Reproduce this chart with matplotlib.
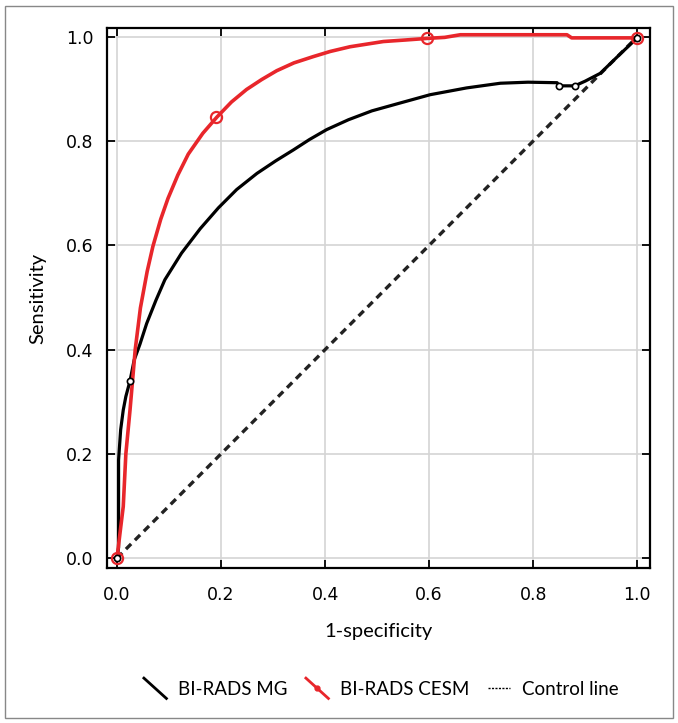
import matplotlib
matplotlib.use("Agg")
import numpy as np
from matplotlib import pyplot as plt
from matplotlib.legend_handler import HandlerLine2D
from matplotlib.patches import Rectangle

# BI-RADS CESM curve (red)
cesm_x = [0.0, 0.006, 0.012, 0.017, 0.025, 0.035, 0.045, 0.058, 0.069, 0.084, 0.098, 0.117,
          0.137, 0.165, 0.192, 0.22, 0.249, 0.278, 0.307, 0.34, 0.377, 0.41, 0.448, 0.48,
          0.512, 0.555, 0.596, 0.63, 0.66, 0.865, 0.874, 1.0]
cesm_y = [0.0, 0.05, 0.099, 0.2, 0.284, 0.4, 0.48, 0.55, 0.598, 0.65, 0.69, 0.735,
          0.775, 0.815, 0.846, 0.875, 0.899, 0.918, 0.935, 0.95, 0.962, 0.972, 0.981, 0.986,
          0.991, 0.994, 0.997, 0.999, 1.004, 1.004, 0.998, 0.998]

# BI-RADS MG curve (black)
mg_x = [0.0, 0.003, 0.003, 0.007, 0.012, 0.017, 0.025, 0.033, 0.044, 0.057, 0.075, 0.092,
        0.124, 0.16, 0.195, 0.23, 0.269, 0.305, 0.339, 0.37, 0.403, 0.445, 0.49, 0.544,
        0.602, 0.672, 0.737, 0.79, 0.846, 0.85, 0.88, 0.9, 0.929, 0.96, 1.0]
mg_y = [0.0, 0.02, 0.188, 0.246, 0.284, 0.31, 0.34, 0.38, 0.41, 0.45, 0.495, 0.534,
        0.585, 0.632, 0.672, 0.707, 0.738, 0.762, 0.783, 0.803, 0.822, 0.841, 0.858, 0.873,
        0.889, 0.902, 0.911, 0.913, 0.912, 0.906, 0.906, 0.915, 0.93, 0.96, 0.998]

cesm_mark_x = [0.0, 0.19, 0.595, 1.0]
cesm_mark_y = [0.0, 0.846, 0.997, 0.998]
mg_mark_x = [0.0, 0.025, 0.85, 0.88, 1.0]
mg_mark_y = [0.0, 0.34, 0.906, 0.906, 0.998]

ref_x = [0.0, 1.0]
ref_y = [0.0, 1.0]

ticks = [0.0, 0.2, 0.4, 0.6, 0.8, 1.0]
tick_labels = ["0.0", "0.2", "0.4", "0.6", "0.8", "1.0"]


class DiagonalHandler(HandlerLine2D):
    # legend handle drawn as a short line going down to the right
    def create_artists(self, legend, orig_handle, xdescent, ydescent, width, height, fontsize, trans):
        artists = super().create_artists(legend, orig_handle, xdescent, ydescent, width, height, fontsize, trans)
        top = height * 1.25 - ydescent
        bottom = -height * 0.3 - ydescent
        for a in artists:
            xd = a.get_xdata()
            n = len(xd)
            if n >= 2:
                a.set_xdata(np.linspace(xd[0], xd[-1], n))
                a.set_ydata(np.linspace(top, bottom, n))
            elif n == 1:
                a.set_ydata([(top + bottom) / 2])
        return artists


fig = plt.figure(figsize=(6.78, 7.23), dpi=100)
ax = fig.add_axes([0.158, 0.2144, 0.801, 0.7469])

ax.grid(True, color="#d4d4d4", linewidth=1.2, zorder=0)
ax.plot(ref_x, ref_y, color="#222222", linestyle=(0, (2.2, 1.6)), linewidth=2.4, zorder=2)
ax.plot(mg_x, mg_y, color="black", linewidth=2.3, zorder=3)
ax.plot(mg_mark_x, mg_mark_y, linestyle="none", marker="o", markersize=4.5,
        markerfacecolor="white", markeredgecolor="black", markeredgewidth=1.2, zorder=4)
ax.plot(cesm_x, cesm_y, color="#e8262b", linewidth=2.6, zorder=3)
ax.plot(cesm_mark_x, cesm_mark_y, linestyle="none", marker="o", markersize=8,
        markerfacecolor="none", markeredgecolor="#e8262b", markeredgewidth=1.6, zorder=4)

ax.set_xlim(-0.019, 1.025)
ax.set_ylim(-0.019, 1.017)
ax.set_xticks(ticks)
ax.set_xticklabels(tick_labels, fontsize=12.5, family="DejaVu Sans")
ax.set_yticks(ticks)
ax.set_yticklabels(tick_labels, fontsize=12.5, family="DejaVu Sans")
ax.tick_params(direction="in", length=6, width=1.3, top=True, right=True)
ax.tick_params(axis="x", pad=13)
ax.tick_params(axis="y", pad=10)
for s in ax.spines.values():
    s.set_linewidth(1.6)
    s.set_color("black")

ax.set_xlabel("1-specificity", fontsize=14.5, family="Lato", labelpad=14)
ax.set_ylabel("Sensitivity", fontsize=14.5, family="Lato", labelpad=14)

h1, = ax.plot([], [], color="black", linewidth=2)
h2, = ax.plot([], [], color="#e8262b", linewidth=2, marker="o", markersize=3.5)
h3, = ax.plot([], [], color="black", linewidth=1, linestyle=(0, (1.5, 1)))
fig.legend([h1, h2, h3], ["BI-RADS MG", "BI-RADS CESM", "Control line"],
           loc="center", bbox_to_anchor=(0.562, 0.047), ncol=3, frameon=False,
           prop={"family": "Lato", "size": 13.5}, handlelength=1.2, handletextpad=0.6,
           columnspacing=1.0,
           handler_map={h1: DiagonalHandler(), h2: DiagonalHandler(), h3: HandlerLine2D()})

fig.patches.append(Rectangle((5 / 678, 5 / 723), 668 / 678, 712 / 723, transform=fig.transFigure,
                             fill=False, edgecolor="#888888", linewidth=1))

fig.savefig("out.png", dpi=100)
